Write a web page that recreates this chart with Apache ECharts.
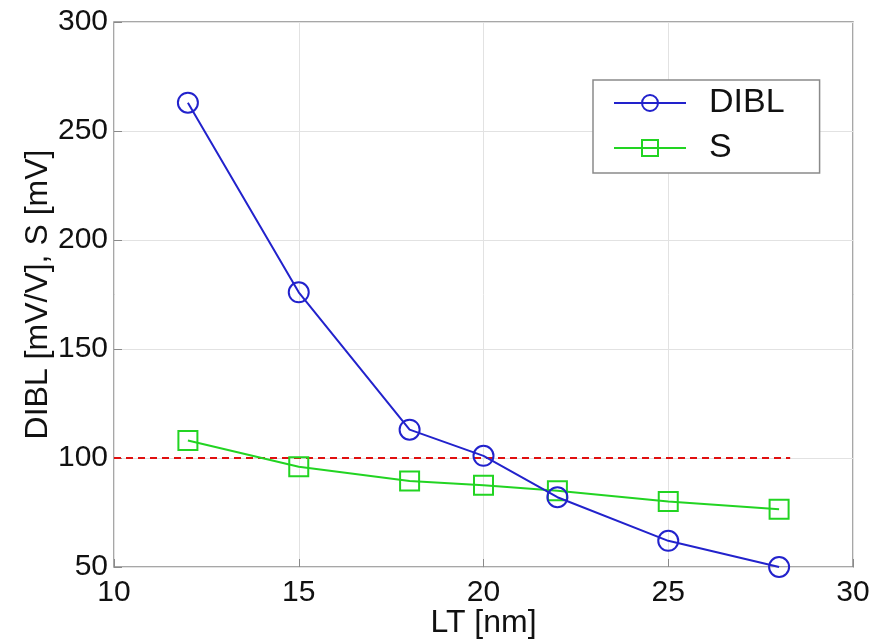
<!DOCTYPE html>
<html>
<head>
<meta charset="utf-8">
<script src="https://cdn.jsdelivr.net/npm/echarts@6/dist/echarts.min.js"></script>
<style>
  html, body { margin: 0; padding: 0; background: #fff; }
  #main { width: 886px; height: 639px; }
</style>
</head>
<body>
<div id="main"></div>
<script>
// data
var lt = [12, 15, 18, 20, 22, 25, 28];
var dibl = [263, 176, 113, 101, 82, 62, 50];
var sVals = [108, 96, 89.5, 87.5, 85, 80, 76.5];
var refY = 100;
var refX = [10, 28.3];

var myChart = echarts.init(document.getElementById("main"));

var font = "Liberation Sans, Arial, Helvetica, sans-serif";

var option = {
  animation: false,
  backgroundColor: "#fff",
  grid: {
    left: 114,
    right: 33,
    top: 22,
    bottom: 72,
    outerBoundsMode: "none",
    containLabel: false,
    show: true,
    borderColor: "#8a8a8a",
    borderWidth: 1.5
  },
  legend: {
    data: ["DIBL", "S"],
    orient: "vertical",
    left: 593,
    top: 80,
    padding: [5, 35, 7, 20],
    itemWidth: 72,
    itemHeight: 20,
    itemGap: 9,
    borderColor: "#8a8a8a",
    borderWidth: 1.5,
    backgroundColor: "#fff",
    textStyle: { fontFamily: font, fontSize: 34, lineHeight: 36, color: "#111", padding: [0, 0, 0, 18] }
  },
  xAxis: {
    type: "value",
    min: 10,
    max: 30,
    interval: 5,
    name: "LT [nm]",
    nameLocation: "middle",
    nameGap: 40,
    nameMoveOverlap: false,
    nameTextStyle: { fontFamily: font, fontSize: 32, color: "#111" },
    axisLine: { show: false },
    axisTick: { inside: true, length: 8, lineStyle: { color: "#8a8a8a" } },
    axisLabel: { fontFamily: font, fontSize: 30, color: "#111", margin: 11 },
    splitLine: { show: true, lineStyle: { color: "#e2e2e2", width: 1 } }
  },
  yAxis: {
    type: "value",
    min: 50,
    max: 300,
    interval: 50,
    name: "DIBL [mV/V], S [mV]",
    nameLocation: "middle",
    nameGap: 60,
    nameMoveOverlap: false,
    nameTextStyle: { fontFamily: font, fontSize: 32, color: "#111" },
    axisLine: { show: false },
    axisTick: { inside: true, length: 8, lineStyle: { color: "#8a8a8a" } },
    axisLabel: { fontFamily: font, fontSize: 30, color: "#111", margin: 6 },
    splitLine: { show: true, lineStyle: { color: "#e2e2e2", width: 1 } }
  },
  series: [
    {
      name: "limit",
      type: "line",
      data: refX.map(function (x) { return [x, refY]; }),
      symbol: "none",
      lineStyle: { color: "#e01010", width: 2, type: [7, 5] },
      z: 1
    },
    {
      name: "DIBL",
      type: "line",
      data: lt.map(function (x, i) { return [x, dibl[i]]; }),
      symbol: "circle",
      symbolSize: 20,
      color: "#2222cc",
      lineStyle: { color: "#2222cc", width: 2 },
      itemStyle: { color: "rgba(255,255,255,0)", borderColor: "#2222cc", borderWidth: 2 },
      z: 3
    },
    {
      name: "S",
      type: "line",
      data: lt.map(function (x, i) { return [x, sVals[i]]; }),
      symbol: "rect",
      symbolSize: 19,
      color: "#22d422",
      lineStyle: { color: "#22d422", width: 2 },
      itemStyle: { color: "rgba(255,255,255,0)", borderColor: "#22d422", borderWidth: 2 },
      z: 2
    }
  ]
};

myChart.setOption(option);
</script>
</body>
</html>
